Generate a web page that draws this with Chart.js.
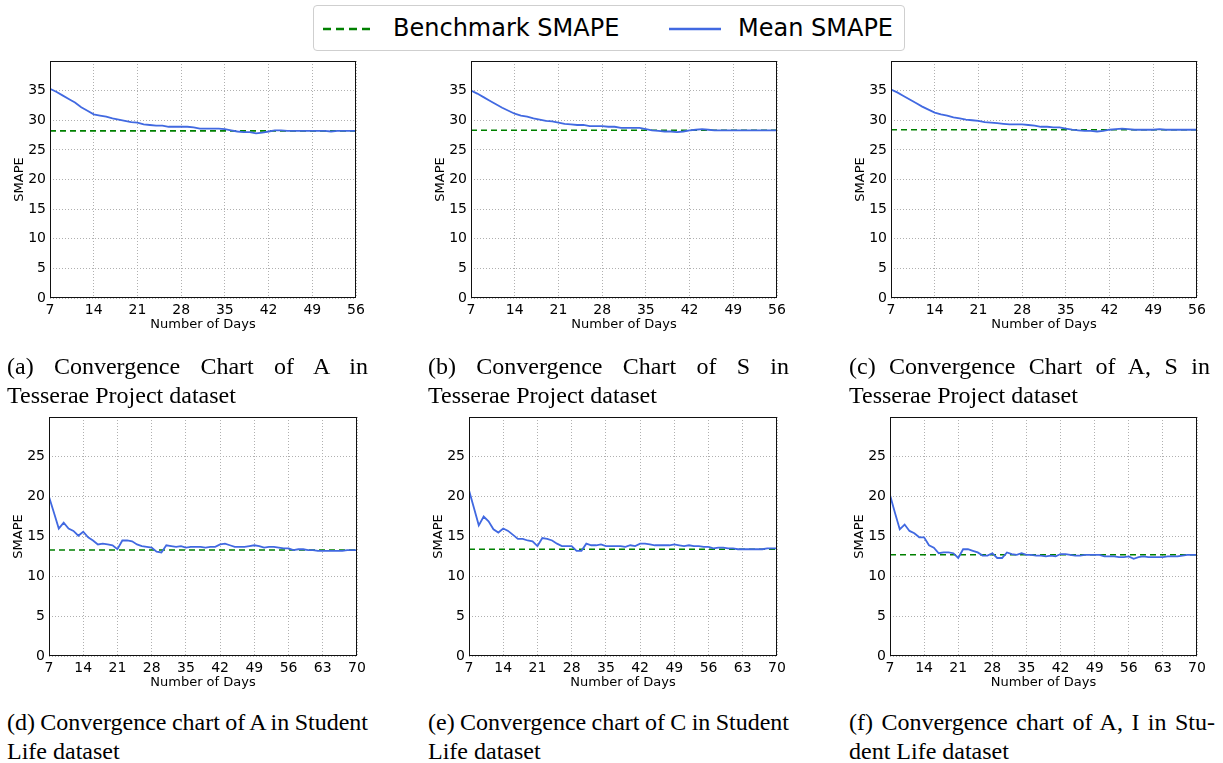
<!DOCTYPE html>
<html>
<head>
<meta charset="utf-8">
<script src="https://cdn.jsdelivr.net/npm/chart.js@4.4.1/dist/chart.umd.min.js"></script>
<style>
	body { margin: 0; background: #fff; width: 1223px; height: 763px; position: relative; overflow: hidden; }
	.panel { position: absolute; }
	.cap { position: absolute; font-family: 'Liberation Serif', serif; font-size: 24px; line-height: 29px; color: #000; }
	.cap .l1 { text-align: justify; text-align-last: justify; white-space: nowrap; word-spacing: -3px; }
	#legend { position: absolute; left: 313px; top: 5px; width: 590px; height: 44px; border: 1px solid #cfcfcf; border-radius: 4px; font-family: 'DejaVu Sans', sans-serif; font-size: 24px; }
	#legend svg, #legend span { position: absolute; }
	#legend span { top: 8px; line-height: 28px; }
</style>
</head>
<body>

<div id="legend">
	<svg style="left:9px;top:20px" width="52" height="6"><line x1="0" y1="3" x2="52" y2="3" stroke="#008000" stroke-width="2.5" stroke-dasharray="8,5"/></svg>
	<span style="left:79px">Benchmark SMAPE</span>
	<svg style="left:355px;top:20px" width="52" height="6"><line x1="0" y1="3" x2="52" y2="3" stroke="#4169e1" stroke-width="2.5"/></svg>
	<span style="left:424px">Mean SMAPE</span>
</div>

<div class="panel" style="left:2px;top:48px;width:368px;height:295px"><canvas id="chart-a"></canvas></div>
<div class="panel" style="left:423px;top:48px;width:368px;height:295px"><canvas id="chart-b"></canvas></div>
<div class="panel" style="left:843px;top:48px;width:368px;height:295px"><canvas id="chart-c"></canvas></div>
<div class="panel" style="left:1px;top:404px;width:370px;height:297px"><canvas id="chart-d"></canvas></div>
<div class="panel" style="left:421px;top:404px;width:370px;height:297px"><canvas id="chart-e"></canvas></div>
<div class="panel" style="left:842px;top:404px;width:369px;height:297px"><canvas id="chart-f"></canvas></div>

<div class="cap" style="left:7px;top:352px;width:361px"><div class="l1">(a) Convergence Chart of A in</div><div>Tesserae Project dataset</div></div>
<div class="cap" style="left:428px;top:352px;width:361px"><div class="l1">(b) Convergence Chart of S in</div><div>Tesserae Project dataset</div></div>
<div class="cap" style="left:849px;top:352px;width:361px"><div class="l1">(c) Convergence Chart of A, S in</div><div>Tesserae Project dataset</div></div>
<div class="cap" style="left:7px;top:708px;width:361px"><div class="l1">(d) Convergence chart of A in Student</div><div>Life dataset</div></div>
<div class="cap" style="left:428px;top:708px;width:361px"><div class="l1">(e) Convergence chart of C in Student</div><div>Life dataset</div></div>
<div class="cap" style="left:849px;top:708px;width:366px"><div class="l1">(f) Convergence chart of A, I in Stu-</div><div>dent Life dataset</div></div>

<script>
	// days on the x axis
	const days_tesserae = [7,8,9,10,11,12,13,14,15,16,17,18,19,20,21,22,23,24,25,26,27,28,29,30,31,
		32,33,34,35,36,37,38,39,40,41,42,43,44,45,46,47,48,49,50,51,52,53,54,55,56];
	const days_student = [7,8,9,10,11,12,13,14,15,16,17,18,19,20,21,22,23,24,25,26,27,28,29,30,31,
		32,33,34,35,36,37,38,39,40,41,42,43,44,45,46,47,48,49,50,51,52,53,54,55,56,57,58,59,60,61,
		62,63,64,65,66,67,68,69,70];

	// mean SMAPE, Tesserae Project
	const mean_a = [35.3,34.8,34.2,33.6,33.0,32.2,31.6,31.0,30.8,30.6,30.3,30.1,29.9,29.7,29.6,29.3,29.2,29.1,29.1,28.9,
		28.9,28.9,28.9,28.8,28.6,28.6,28.6,28.6,28.5,28.3,28.1,28.0,28.0,27.8,27.9,28.1,28.3,28.3,28.2,28.2,
		28.2,28.2,28.2,28.2,28.2,28.1,28.2,28.2,28.2,28.2];
	const mean_b = [35.0,34.5,33.9,33.3,32.7,32.1,31.6,31.1,30.8,30.6,30.3,30.1,29.9,29.8,29.6,29.4,29.3,29.2,29.2,29.0,
		29.0,29.0,28.9,28.9,28.7,28.7,28.7,28.7,28.5,28.3,28.2,28.1,28.1,28.0,28.1,28.3,28.4,28.5,28.4,28.3,
		28.3,28.3,28.3,28.3,28.3,28.3,28.3,28.3,28.3,28.3];
	const mean_c = [35.2,34.7,34.1,33.5,32.9,32.3,31.8,31.3,31.0,30.8,30.5,30.3,30.1,30.0,29.9,29.7,29.6,29.5,29.4,29.3,
		29.3,29.3,29.2,29.1,28.9,28.9,28.8,28.8,28.6,28.4,28.3,28.2,28.2,28.1,28.2,28.4,28.5,28.6,28.5,28.4,
		28.4,28.4,28.4,28.5,28.4,28.4,28.4,28.4,28.4,28.4];

	// mean SMAPE, Student Life
	const mean_d = [20.0,18.0,16.0,16.75,16.0,15.7,15.1,15.6,14.9,14.5,14.0,14.1,14.0,13.9,13.4,14.5,14.5,14.4,14.0,13.8,
		13.7,13.6,13.1,13.0,13.9,13.8,13.7,13.8,13.6,13.7,13.7,13.7,13.6,13.7,13.7,14.0,14.1,13.9,13.7,13.7,
		13.7,13.8,13.9,13.8,13.6,13.7,13.7,13.6,13.5,13.5,13.3,13.4,13.4,13.3,13.3,13.2,13.2,13.2,13.2,13.2,
		13.2,13.3,13.3,13.3];
	const mean_e = [20.8,18.6,16.4,17.5,16.9,15.9,15.5,16.0,15.7,15.2,14.7,14.7,14.5,14.4,13.8,14.8,14.7,14.5,14.1,13.8,
		13.8,13.8,13.2,13.2,14.1,13.9,13.9,14.0,13.8,13.8,13.8,13.8,13.7,13.9,13.8,14.1,14.1,14.0,13.9,13.9,
		13.9,13.9,14.0,13.9,13.8,13.9,13.8,13.8,13.7,13.7,13.5,13.6,13.6,13.5,13.5,13.4,13.4,13.4,13.4,13.4,
		13.4,13.5,13.5,13.5];
	const mean_f = [20.2,18.0,15.9,16.5,15.7,15.4,14.9,14.9,13.9,13.6,12.9,13.0,13.0,12.9,12.3,13.4,13.4,13.2,13.0,12.6,
		12.6,12.9,12.3,12.3,13.0,12.8,12.7,12.9,12.7,12.7,12.6,12.6,12.5,12.6,12.5,12.8,12.8,12.7,12.6,12.6,
		12.7,12.7,12.7,12.7,12.5,12.5,12.5,12.4,12.4,12.5,12.2,12.4,12.5,12.4,12.4,12.4,12.4,12.5,12.5,12.5,
		12.6,12.7,12.7,12.7];

	// benchmark SMAPE per chart
	const bench_a = 28.2, bench_b = 28.3, bench_c = 28.4;
	const bench_d = 13.3, bench_e = 13.4, bench_f = 12.7;

	Chart.defaults.font.family = "'DejaVu Sans', sans-serif";
	Chart.defaults.color = '#000';

	// black box round the plot area
	const frame_plugin = {
		id: 'frame',
		afterDatasetsDraw(chart) {
			let a = chart.chartArea, ctx = chart.ctx;
			ctx.save();
			ctx.strokeStyle = '#111';
			ctx.lineWidth = 1;
			ctx.strokeRect(Math.round(a.left) + 0.5, Math.round(a.top) + 0.5, Math.round(a.right - a.left) - 1, Math.round(a.bottom - a.top) - 1);
			ctx.restore();
		}
	};

	function render_chart(id, days, values, bench, y_max) {
		let ctx = document.getElementById(id).getContext('2d');
		let first = days[0], last = days[days.length - 1];
		return new Chart(ctx, {
			type: 'line',
			data: {
				datasets: [{
					label: 'Mean SMAPE',
					data: days.map((d, i) => ({ x: d, y: values[i] })),
					borderColor: '#4169e1',
					borderWidth: 1.8,
					pointRadius: 0,
					tension: 0
				}, {
					label: 'Benchmark SMAPE',
					data: [{ x: first, y: bench }, { x: last, y: bench }],
					borderColor: '#008000',
					borderWidth: 1.6,
					borderDash: [6, 4],
					pointRadius: 0
				}]
			},
			options: {
				responsive: true,
				maintainAspectRatio: false,
				animation: false,
				layout: { padding: { top: 13, right: 14, left: 0, bottom: 0 } },
				plugins: { legend: { display: false }, tooltip: { enabled: false } },
				scales: {
					x: {
						type: 'linear',
						min: first,
						max: last,
						afterFit: s => { s.height = 45; },
						grid: { color: '#b0b0b0', drawTicks: false },
						border: { display: false, dash: [1, 2] },
						ticks: { stepSize: 7, padding: 4, maxRotation: 0, font: { size: 14 } },
						title: { display: true, text: 'Number of Days', font: { size: 13 }, padding: { top: 0, bottom: 11 } }
					},
					y: {
						min: 0,
						max: y_max,
						afterFit: s => { s.width = 48; },
						grid: { color: '#b0b0b0', drawTicks: false },
						border: { display: false, dash: [1, 2] },
						ticks: { stepSize: 5, padding: 4, font: { size: 14 }, callback: v => v === y_max ? '' : v },
						title: { display: true, text: 'SMAPE', font: { size: 13 }, padding: { top: 10, bottom: 0 } }
					}
				}
			},
			plugins: [frame_plugin]
		});
	}

	render_chart('chart-a', days_tesserae, mean_a, bench_a, 40);
	render_chart('chart-b', days_tesserae, mean_b, bench_b, 40);
	render_chart('chart-c', days_tesserae, mean_c, bench_c, 40);
	render_chart('chart-d', days_student, mean_d, bench_d, 30);
	render_chart('chart-e', days_student, mean_e, bench_e, 30);
	render_chart('chart-f', days_student, mean_f, bench_f, 30);
</script>
</body>
</html>
